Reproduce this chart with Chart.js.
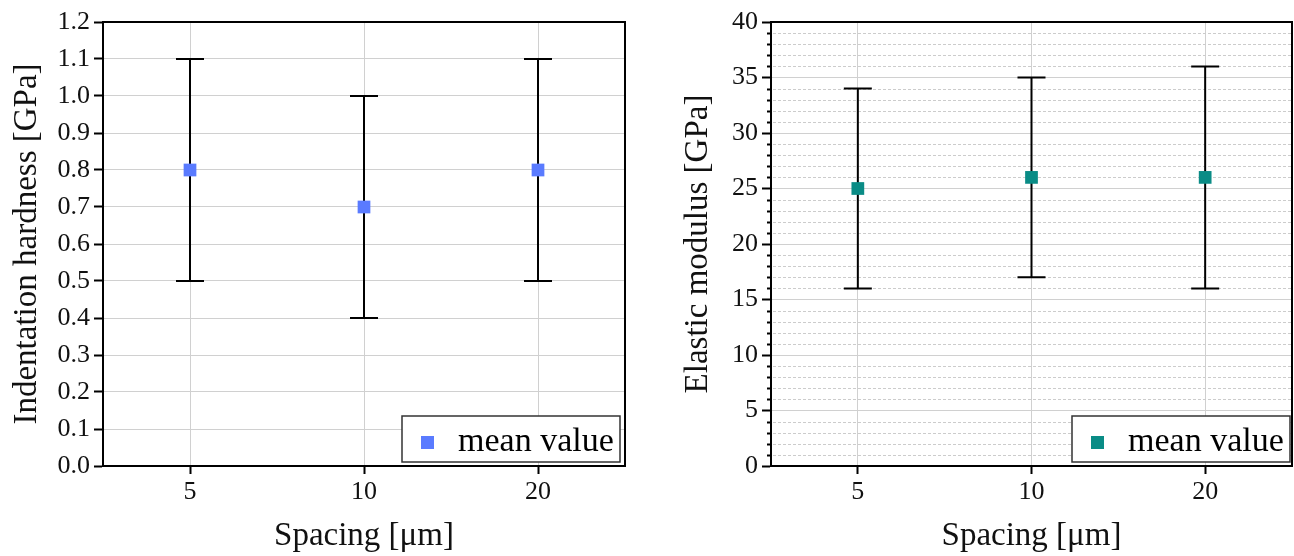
<!DOCTYPE html>
<html>
<head>
<meta charset="utf-8">
<script src="https://cdn.jsdelivr.net/npm/chart.js@4.4.1/dist/chart.umd.min.js"></script>
<style>
  html, body { margin: 0; padding: 0; background: #fff; overflow: hidden; }
  #wrap { position: relative; width: 1294px; height: 556px; overflow: hidden; }
  #c1 { position: absolute; left: 0; top: 0; }
  #c2 { position: absolute; left: 647px; top: 0; }
</style>
</head>
<body>
<div id="wrap">
  <canvas id="c1" width="640" height="556"></canvas>
  <canvas id="c2" width="654" height="556"></canvas>
</div>
<script>
// ---- data ----
const categories = ['5', '10', '20'];
const hardnessMean = [0.8, 0.7, 0.8];
const hardnessLow  = [0.5, 0.4, 0.5];
const hardnessHigh = [1.1, 1.0, 1.1];
const modulusMean = [25, 26, 26];
const modulusLow  = [16, 17, 16];
const modulusHigh = [34, 35, 36];
const legendLabel = 'mean value';
const xTitle = 'Spacing [\u03bcm]';
const hardnessTitle = 'Indentation hardness [GPa]';
const modulusTitle = 'Elastic modulus [GPa]';

const FONT = '"Liberation Serif", "Times New Roman", serif';

const errorBarPlugin = {
  id: 'errorBars',
  beforeDatasetsDraw(chart, args, opts) {
    const ctx = chart.ctx, xs = chart.scales.x, ys = chart.scales.y;
    ctx.save();
    ctx.strokeStyle = '#000';
    ctx.lineWidth = 2;
    opts.low.forEach((lo, i) => {
      const x = xs.getPixelForValue(i);
      const yl = ys.getPixelForValue(lo), yh = ys.getPixelForValue(opts.high[i]);
      ctx.beginPath();
      ctx.moveTo(x, yl); ctx.lineTo(x, yh);
      ctx.moveTo(x - 14, yl); ctx.lineTo(x + 14, yl);
      ctx.moveTo(x - 14, yh); ctx.lineTo(x + 14, yh);
      ctx.stroke();
    });
    ctx.restore();
  }
};

const minorGridPlugin = {
  id: 'minorGrid',
  beforeDatasetsDraw(chart, args, opts) {
    if (!opts.step) return;
    const ctx = chart.ctx, ys = chart.scales.y, a = chart.chartArea;
    ctx.save();
    for (let v = ys.min; v <= ys.max + 1e-9; v += opts.step) {
      if (Math.abs(v % opts.major) < 1e-9) continue;
      const y = Math.round(ys.getPixelForValue(v)) + 0.5;
      ctx.strokeStyle = '#cccccc';
      ctx.lineWidth = 1;
      ctx.setLineDash([3, 2]);
      ctx.beginPath(); ctx.moveTo(a.left + 2, y); ctx.lineTo(a.right, y); ctx.stroke();
      ctx.setLineDash([]);
      ctx.strokeStyle = '#000';
      ctx.lineWidth = 2;
      ctx.beginPath(); ctx.moveTo(a.left - 4, y); ctx.lineTo(a.left, y); ctx.stroke();
    }
    ctx.restore();
  }
};

const frameLegendPlugin = {
  id: 'frameLegend',
  afterDraw(chart, args, opts) {
    const ctx = chart.ctx, a = chart.chartArea;
    ctx.save();
    ctx.strokeStyle = '#000';
    ctx.lineWidth = 2;
    ctx.beginPath();
    ctx.moveTo(a.left, a.top); ctx.lineTo(a.right, a.top); ctx.lineTo(a.right, a.bottom);
    ctx.stroke();
    // legend
    const bx = a.right - opts.rightGap - 218, by = a.bottom - 50;
    ctx.fillStyle = '#fff';
    ctx.fillRect(bx, by, 218, 46);
    ctx.strokeStyle = '#333';
    ctx.lineWidth = 1.5;
    ctx.strokeRect(bx, by, 218, 46);
    ctx.fillStyle = opts.color;
    ctx.fillRect(bx + 19, by + 20, 13, 13);
    ctx.fillStyle = '#000';
    ctx.font = '34px ' + FONT;
    ctx.textBaseline = 'alphabetic';
    ctx.textAlign = 'left';
    ctx.fillText(opts.label, bx + 56, by + 35);
    ctx.restore();
  }
};

function makeChart(id, mean, low, high, color, yCfg) {
  return new Chart(document.getElementById(id), {
    type: 'line',
    data: {
      labels: categories,
      datasets: [{
        label: legendLabel,
        data: mean,
        showLine: false,
        pointStyle: 'rect',
        pointRadius: 9,
        pointHoverRadius: 9,
        pointBorderWidth: 0,
        pointBackgroundColor: color,
        borderColor: color
      }]
    },
    options: {
      responsive: false,
      animation: false,
      devicePixelRatio: 1,
      layout: { padding: { top: 22, right: yCfg.padRight, left: 0, bottom: 0 } },
      plugins: {
        legend: { display: false },
        tooltip: { enabled: false },
        errorBars: { low, high },
        minorGrid: { step: yCfg.minor, major: yCfg.step },
        frameLegend: { color, label: legendLabel, rightGap: yCfg.legendGap }
      },
      scales: {
        x: {
          type: 'category',
          offset: true,
          afterFit(s) { s.height = 90; s.paddingLeft = 0; s.paddingRight = 0; },
          grid: { offset: false, color: '#d0d0d0', lineWidth: 1, tickColor: '#000', tickLength: 8, tickWidth: 2 },
          border: { color: '#000', width: 2 },
          ticks: { color: '#111', font: { family: FONT, size: 26 }, padding: 3 },
          title: { display: true, text: xTitle, color: '#111', font: { family: FONT, size: 33 }, padding: { top: 0, bottom: 0 } }
        },
        y: {
          min: yCfg.min, max: yCfg.max,
          afterFit(s) { s.width = yCfg.width; },
          afterBuildTicks(s) {
            const t = [];
            for (let v = yCfg.min; v <= yCfg.max + 1e-9; v += yCfg.step) t.push({ value: Math.round(v * 1000) / 1000 });
            s.ticks = t;
          },
          grid: { color: '#d0d0d0', lineWidth: 1, tickColor: '#000', tickLength: 9, tickWidth: 2 },
          border: { color: '#000', width: 2 },
          ticks: {
            color: '#111', font: { family: FONT, size: 26 }, padding: 4,
            callback: (v) => yCfg.dec ? Number(v).toFixed(yCfg.dec) : String(v)
          },
          title: { display: true, text: yCfg.title, color: '#111', font: { family: FONT, size: 33 }, padding: { top: yCfg.titlePad, bottom: 0 } }
        }
      }
    },
    plugins: [minorGridPlugin, errorBarPlugin, frameLegendPlugin]
  });
}

makeChart('c1', hardnessMean, hardnessLow, hardnessHigh, '#5a7bff',
  { min: 0, max: 1.2, step: 0.1, dec: 1, minor: 0, width: 103, padRight: 15, legendGap: 5, title: hardnessTitle, titlePad: 8 });
makeChart('c2', modulusMean, modulusLow, modulusHigh, '#0a8c86',
  { min: 0, max: 40, step: 5, dec: 0, minor: 1, width: 124, padRight: 2, legendGap: 2, title: modulusTitle, titlePad: 32 });
</script>
</body>
</html>
